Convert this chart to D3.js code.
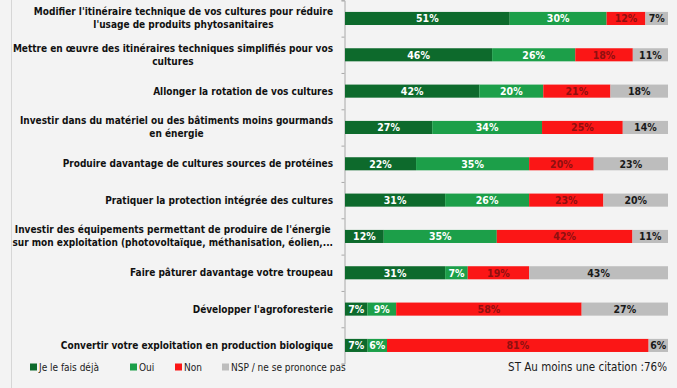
<!DOCTYPE html>
<html><head><meta charset="utf-8">
<script src="https://cdn.jsdelivr.net/npm/d3@7"></script>
<style>
html,body{margin:0;padding:0;background:#f3f3f3;}
svg{display:block;}
</style></head>
<body>
<svg id="c" width="677" height="388"></svg>
<script>
const categories = [
  ["Modifier l'itinéraire technique de vos cultures pour réduire", "l'usage de produits phytosanitaires"],
  ["Mettre en œuvre des itinéraires techniques simplifiés pour vos", "cultures"],
  ["Allonger la rotation de vos cultures"],
  ["Investir dans du matériel ou des bâtiments moins gourmands", "en énergie"],
  ["Produire davantage de cultures sources de protéines"],
  ["Pratiquer la protection intégrée des cultures"],
  ["Investir des équipements permettant de produire de l'énergie", "sur mon exploitation (photovoltaïque, méthanisation, éolien,..."],
  ["Faire pâturer davantage votre troupeau"],
  ["Développer l'agroforesterie"],
  ["Convertir votre exploitation en production biologique"]
];
const seriesNames = ["Je le fais déjà", "Oui", "Non", "NSP / ne se prononce pas"];
const dejaFait = [51, 46, 42, 27, 22, 31, 12, 31, 7, 7];
const oui      = [30, 26, 20, 34, 35, 26, 35, 7, 9, 6];
const non      = [12, 18, 21, 25, 20, 23, 42, 19, 58, 81];
const nsp      = [7, 11, 18, 14, 23, 20, 11, 43, 27, 6];
const footnote = "ST Au moins une citation :76%";

const colors = ["#0d6a2c", "#1c9f49", "#fb1616", "#bdbdbd"];
const labelColors = ["#ffffff", "#ffffff", "#8e1010", "#1a1a1a"];
const FONT = "'DejaVu Sans Condensed', 'DejaVu Sans', sans-serif";

const svg = d3.select("#c");
svg.append("line").attr("x1", 11.5).attr("x2", 11.5).attr("y1", 0).attr("y2", 388)
  .attr("stroke", "#d6d6d6").attr("stroke-width", 1);

const series = [dejaFait, oui, non, nsp];
const rows = categories.map((c, i) => {
  const vals = series.map(s => s[i]);
  const tot = d3.sum(vals);
  let acc = 0;
  const segs = vals.map((v, k) => { const s = {k, v, x0: acc / tot * 100, x1: (acc + v) / tot * 100}; acc += v; return s; });
  return {i, segs};
});

const y = d3.scaleBand().domain(d3.range(categories.length)).range([0.3, 363.6]).paddingInner(0.64).paddingOuter(0.32);
const x = d3.scaleLinear().domain([0, 100]).range([345, 668]);

const axis = d3.axisLeft(d3.scaleLinear().domain([0, categories.length]).range([0.3, 363.6]))
  .tickValues(d3.range(categories.length + 1)).tickSize(3).tickFormat("");
const ag = svg.append("g").attr("transform", "translate(344.5,0)").call(axis);
ag.select(".domain").attr("stroke", "#a8a8a8");
ag.selectAll(".tick line").attr("stroke", "#a8a8a8");

const rg = svg.selectAll("g.row").data(rows).join("g").attr("class", "row");
rg.selectAll("rect").data(d => d.segs.map(s => ({...s, i: d.i}))).join("rect")
  .attr("x", d => x(d.x0)).attr("width", d => x(d.x1) - x(d.x0))
  .attr("y", d => y(d.i)).attr("height", y.bandwidth())
  .attr("fill", d => colors[d.k]);
rg.selectAll("text.val").data(d => d.segs.map(s => ({...s, i: d.i}))).join("text")
  .attr("class", "val")
  .attr("x", d => (x(d.x0) + x(d.x1)) / 2)
  .attr("y", d => y(d.i) + y.bandwidth() / 2)
  .attr("dy", "0.36em").attr("text-anchor", "middle")
  .attr("font-family", FONT).attr("font-weight", "bold").attr("font-size", 10.5)
  .attr("fill", d => labelColors[d.k])
  .text(d => d.v + "%");

const lg = svg.selectAll("g.cat").data(categories).join("g").attr("class", "cat");
lg.each(function(lines, i) {
  const g = d3.select(this);
  const cy = y(i) + y.bandwidth() / 2;
  const lh = 13;
  const t = g.selectAll("text").data(lines).join("text")
    .attr("font-family", FONT).attr("font-weight", "bold").attr("font-size", 10)
    .attr("fill", "#111")
    .attr("y", (d, j) => cy + (j - (lines.length - 1) / 2) * lh)
    .attr("dy", "0.35em")
    .text(d => d);
  const widths = t.nodes().map(n => n.getComputedTextLength());
  const maxW = d3.max(widths);
  const right = 333;
  const center = right - maxW / 2;
  t.attr("text-anchor", "middle").attr("x", center);
});

const legX = [30, 130, 175, 222];
const leg = svg.selectAll("g.leg").data(seriesNames).join("g").attr("class", "leg")
  .attr("transform", (d, k) => `translate(${legX[k]},367)`);
leg.append("rect").attr("x", 0).attr("y", -3.5).attr("width", 7).attr("height", 7)
  .attr("fill", (d, k) => colors[k]);
leg.append("text").attr("x", 9).attr("dy", "0.35em")
  .attr("font-family", FONT).attr("font-size", 10).attr("fill", "#1a1a1a")
  .text(d => d);

svg.append("text").attr("x", 667).attr("y", 367).attr("dy", "0.35em").attr("text-anchor", "end")
  .attr("font-family", FONT).attr("font-size", 11.5).attr("fill", "#1a1a1a")
  .text(footnote);
</script>
</body></html>
